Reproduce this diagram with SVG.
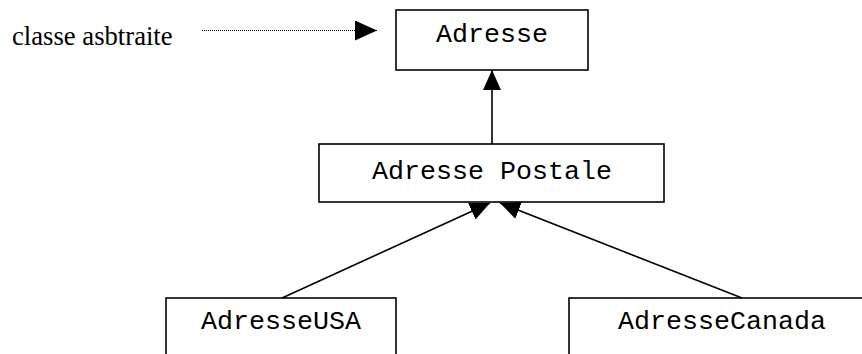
<svg xmlns="http://www.w3.org/2000/svg" width="862" height="354" viewBox="0 0 862 354">
  <style>
    .box { fill: #ffffff; stroke: #000000; stroke-width: 1.6; }
    .cls { font-family: "Liberation Mono", "Courier New", monospace; font-size: 26.67px; fill: #000000; text-anchor: middle; }
    .note { font-family: "Liberation Serif", "Times New Roman", serif; font-size: 26.67px; fill: #000000; }
    .conn { fill: none; stroke: #000000; stroke-width: 1.6; marker-end: url(#arr); }
    .dot { fill: none; stroke: #000000; stroke-width: 1; stroke-dasharray: 1 1; marker-end: url(#arr2); }
  </style>
  <defs>
    <marker id="arr" markerUnits="userSpaceOnUse" viewBox="0 0 20 20" markerWidth="20" markerHeight="20" refX="20" refY="10" orient="auto">
      <path d="M0,1 L20,10 L0,19 Z" fill="#000000"/>
    </marker>
    <marker id="arr2" markerUnits="userSpaceOnUse" viewBox="0 0 22 20" markerWidth="22" markerHeight="20" refX="22" refY="10" orient="auto">
      <path d="M0,0 L22,10 L0,20 Z" fill="#000000"/>
    </marker>
  </defs>

  <g id="connectors">
    <path class="dot" d="M202,30.5 L377,30.5"/>
    <path class="conn" d="M492,144 L492,70"/>
    <path class="conn" d="M282,298 L490,203"/>
    <path class="conn" d="M742,298 L500,203"/>
  </g>

  <g id="note">
    <text class="note" x="12" y="45">classe asbtraite</text>
  </g>

  <g id="adresse">
    <rect class="box" x="396" y="10" width="192" height="60"/>
    <text class="cls" x="492" y="42">Adresse</text>
  </g>

  <g id="adresse-postale">
    <rect class="box" x="319" y="144" width="345" height="58"/>
    <text class="cls" x="492" y="179">Adresse Postale</text>
  </g>

  <g id="adresse-usa">
    <rect class="box" x="166" y="298" width="230" height="80"/>
    <text class="cls" x="281" y="329">AdresseUSA</text>
  </g>

  <g id="adresse-canada">
    <rect class="box" x="569" y="298" width="320" height="80"/>
    <text class="cls" x="722" y="329">AdresseCanada</text>
  </g>
</svg>
